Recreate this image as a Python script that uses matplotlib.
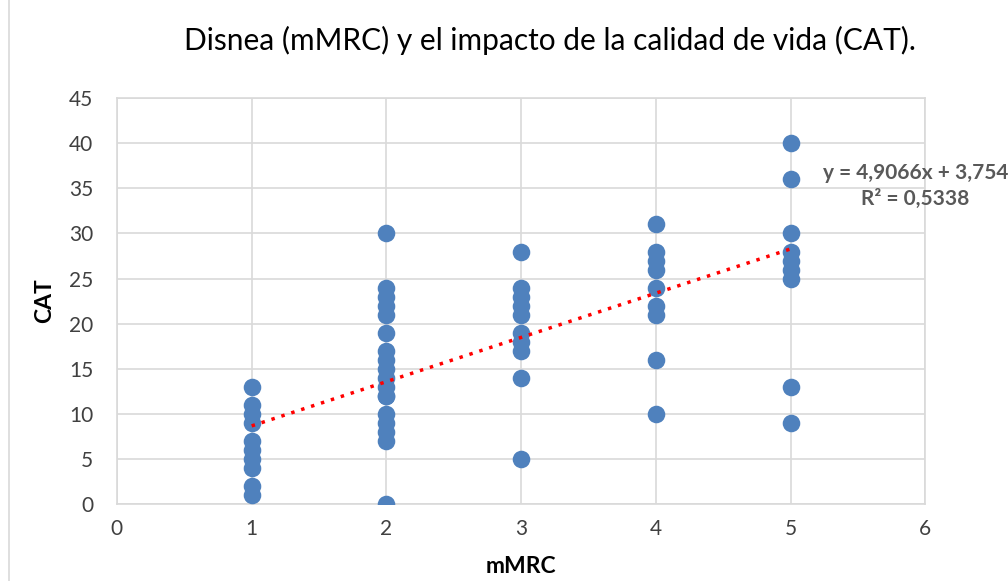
import matplotlib.pyplot as plt
from matplotlib.patches import Rectangle
import numpy as np

# mMRC (x) vs CAT (y) values
mmrc_1 = [13, 11, 10, 9, 7, 6, 5, 4, 2, 1]
mmrc_2 = [30, 24, 23, 22, 21, 19, 17, 16, 15, 14, 13, 12, 12, 10, 9, 8, 7, 0]
mmrc_3 = [28, 24, 23, 22, 21, 19, 18, 17, 14, 5]
mmrc_4 = [31, 28, 27, 26, 24, 22, 21, 16, 10]
mmrc_5 = [40, 36, 30, 28, 27, 26, 25, 13, 9]

groups = [mmrc_1, mmrc_2, mmrc_3, mmrc_4, mmrc_5]
x = np.concatenate([[i + 1] * len(g) for i, g in enumerate(groups)])
y = np.concatenate(groups)

slope, intercept = 4.9066, 3.754
r2_text = "R² = 0,5338"
eq_text = "y = 4,9066x + 3,754"

plt.rcParams['font.family'] = ['Lato', 'DejaVu Sans']

fig = plt.figure(figsize=(10.08, 5.81), dpi=100)
ax = fig.add_axes([0.116, 0.1325, 0.802, 0.6985])

grid_c = '#D9D9D9'
ax.scatter(x, y, s=160, color='#4F81BD', zorder=3, linewidths=0)

xt = np.array([1, 5])
ax.plot(xt, slope * xt + intercept, color='#FF0000', linestyle=(0, (1, 2)),
        linewidth=2.5, zorder=4)

ax.set_xlim(0, 6)
ax.set_ylim(0, 45)
ax.set_xticks(range(0, 7))
ax.set_yticks(range(0, 50, 5))
ax.grid(True, color=grid_c, linewidth=1.2, zorder=0)
for s in ax.spines.values():
    s.set_color(grid_c)
    s.set_linewidth(1.2)
ax.tick_params(length=0, labelsize=15, colors='#404040')
ax.tick_params(axis='x', pad=11)
ax.tick_params(axis='y', pad=17)

ax.set_xlabel('mMRC', fontsize=16.5, fontweight='bold', labelpad=12)
ax.set_ylabel('CAT', fontsize=16.5, fontweight='bold', labelpad=10)

fig.text(0.546, 0.93, 'Disnea (mMRC) y el impacto de la calidad de vida (CAT).',
         ha='center', va='center', fontsize=21.5, color='#000000')

fig.text(0.908, 0.702, eq_text, ha='center', va='center', fontsize=15,
         fontweight='bold', color='#595959')
fig.text(0.908, 0.657, r2_text, ha='center', va='center', fontsize=15,
         fontweight='bold', color='#595959')

fig.patches.append(Rectangle((0.009, -0.05), 1.2, 1.2, transform=fig.transFigure,
                             fill=False, edgecolor=grid_c, linewidth=1.2))

fig.savefig('out.png', dpi=100)
